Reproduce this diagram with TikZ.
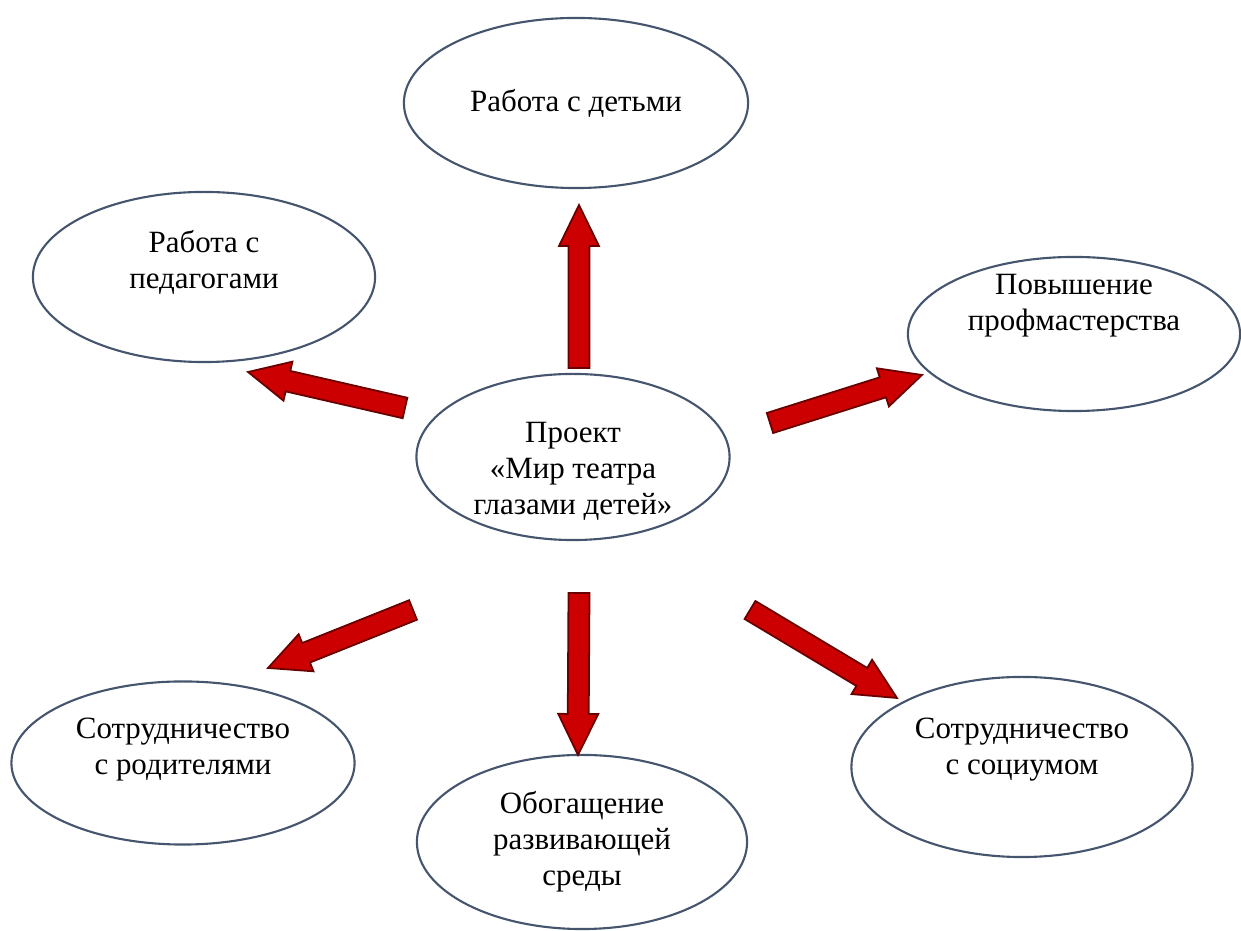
\documentclass[tikz,border=0pt]{standalone}
\usepackage{fontspec}
\setmainfont{Liberation Serif}
\usepackage{xcolor}
\usepackage{tikz}
\usetikzlibrary{calc,shapes.geometric}

\definecolor{arrowred}{RGB}{204,0,0}
\definecolor{arrowedge}{RGB}{105,0,0}
\definecolor{ovalline}{RGB}{70,85,110}

% block arrow: #1 tail, #2 tip
\newcommand{\blockarrow}[2]{%
\coordinate (h) at ($(#2)!0.41cm!(#1)$);
\draw[blockarr] ($(#1)!0.105cm!90:(#2)$) -- ($(h)!0.105cm!90:(#2)$) -- ($(h)!0.2cm!90:(#2)$) -- (#2)
  -- ($(h)!0.2cm!-90:(#2)$) -- ($(h)!0.105cm!-90:(#2)$) -- ($(#1)!0.105cm!-90:(#2)$) -- cycle;}

\begin{document}
\begin{tikzpicture}[x=0.01cm, y=-0.01cm, font=\fontsize{8.8}{10.2}\selectfont,
  oval/.style={ellipse, draw=ovalline, line width=0.6pt, inner sep=0pt, outer sep=0pt},
  txt/.style={align=center, inner sep=0pt},
  blockarr/.style={fill=arrowred, draw=arrowedge, line width=0.5pt, line join=miter}]
\useasboundingbox (0,0) rectangle (1241,931);

\node[oval, minimum width=3.44cm, minimum height=1.70cm,
  label={[txt]center:Работа с детьми}] (kids) at (576,103) {};
\node[oval, minimum width=3.42cm, minimum height=1.70cm,
  label={[txt, yshift=0.15cm]center:Работа с\\педагогами}] (ped) at (204,277) {};
\node[oval, minimum width=3.32cm, minimum height=1.54cm,
  label={[txt, yshift=0.28cm]center:Повышение\\профмастерства}] (prof) at (1074,334) {};
\node[oval, minimum width=3.13cm, minimum height=1.66cm,
  label={[txt, yshift=-0.14cm]center:Проект\\ «Мир театра\\глазами детей»}] (proj) at (573,457) {};
\node[oval, minimum width=3.43cm, minimum height=1.63cm,
  label={[txt, yshift=0.13cm]center:Сотрудничество\\с родителями}] (rod) at (183,763) {};
\node[oval, minimum width=3.30cm, minimum height=1.74cm,
  label={[txt]center:Обогащение\\развивающей\\среды}] (obog) at (582,842) {};
\node[oval, minimum width=3.41cm, minimum height=1.80cm,
  label={[txt, yshift=0.17cm]center:Сотрудничество\\с социумом}] (soc) at (1022,767) {};

% arrow ends
\coordinate (upA) at (579,368); \coordinate (upB) at (579,205);
\coordinate (ulA) at (405,408); \coordinate (ulB) at (248,372);
\coordinate (urA) at (770,423); \coordinate (urB) at (922,375);
\coordinate (dlA) at (413,610); \coordinate (dlB) at (268,668);
\coordinate (dnA) at (579,593); \coordinate (dnB) at (578,755);
\coordinate (drA) at (750,610); \coordinate (drB) at (897,698);

\blockarrow{upA}{upB}
\blockarrow{ulA}{ulB}
\blockarrow{urA}{urB}
\blockarrow{dlA}{dlB}
\blockarrow{dnA}{dnB}
\blockarrow{drA}{drB}
\end{tikzpicture}
\end{document}
